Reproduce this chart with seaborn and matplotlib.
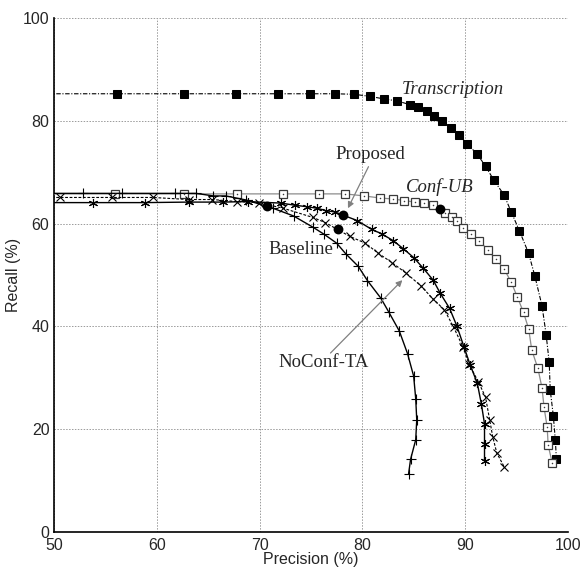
import matplotlib
matplotlib.use("Agg")
import matplotlib.pyplot as plt
import seaborn as sns
import numpy as np

# ---------------- data ----------------
trans_x = [45.0, 56.1, 62.6, 67.7, 71.8, 74.9, 77.3, 79.2, 80.7, 82.1, 83.4, 84.6, 85.4, 86.3,
           87.0, 87.8, 88.6, 89.4, 90.2, 91.2, 92.0, 92.8, 93.8, 94.5, 95.3, 96.2, 96.8,
           97.5, 97.9, 98.2, 98.3, 98.6, 98.8, 98.9]
trans_y = [85.3, 85.3, 85.3, 85.3, 85.3, 85.3, 85.3, 85.2, 84.8, 84.3, 83.9, 83.2, 82.7, 81.9,
           81.0, 79.9, 78.6, 77.2, 75.6, 73.5, 71.2, 68.5, 65.6, 62.3, 58.6, 54.2, 49.8,
           44.0, 38.4, 33.0, 27.6, 22.6, 17.8, 14.1]

confub_x = [45.0, 55.9, 62.6, 67.8, 72.3, 75.8, 78.3, 80.2, 81.7, 83.0, 84.1, 85.1, 86.0, 86.9,
            88.1, 88.7, 89.2, 89.8, 90.6, 91.4, 92.2, 93.0, 93.8, 94.5, 95.1, 95.7, 96.2,
            96.5, 97.1, 97.5, 97.7, 98.0, 98.1, 98.5]
confub_y = [65.8, 65.8, 65.8, 65.8, 65.8, 65.8, 65.8, 65.4, 65.0, 64.8, 64.5, 64.2, 64.0, 63.6,
            62.1, 61.3, 60.5, 59.2, 57.9, 56.7, 54.9, 53.1, 51.2, 48.6, 45.7, 42.7, 39.5,
            35.4, 31.8, 28.0, 24.2, 20.4, 16.8, 13.4]

prop_x = [45.0, 53.8, 58.8, 63.1, 66.4, 68.9, 72.1, 73.4, 74.6, 75.6, 76.5, 77.3, 79.5, 80.9,
          81.9, 83.0, 84.0, 85.0, 85.9, 86.9, 87.6, 88.5, 89.2, 89.9, 90.5, 91.2, 91.6,
          91.9, 91.9, 91.9]
prop_y = [64.1, 64.1, 64.1, 64.2, 64.2, 64.3, 64.0, 63.6, 63.3, 63.0, 62.5, 62.3, 60.6, 58.9,
          58.0, 56.7, 55.1, 53.4, 51.4, 49.0, 46.4, 43.5, 40.1, 36.0, 32.5, 28.9, 24.8,
          21.0, 17.1, 13.8]

xcur_x = [45.0, 50.6, 55.6, 59.6, 63.1, 65.4, 67.8, 69.9, 72.3, 75.2, 76.4, 78.8, 80.3, 81.5,
          82.9, 84.3, 85.7, 86.9, 88.0, 88.9, 89.8, 90.4, 91.3, 92.0, 92.4, 92.7, 93.1, 93.8]
xcur_y = [65.1, 65.1, 65.1, 65.1, 64.7, 64.7, 64.3, 64.1, 63.0, 61.2, 60.2, 57.5, 56.2, 54.3,
          52.4, 50.3, 47.9, 45.3, 43.2, 39.8, 36.0, 32.6, 29.2, 26.2, 21.8, 18.5, 15.3, 12.7]

plus_x = [45.0, 52.8, 56.6, 61.8, 63.8, 65.5, 66.7, 68.7, 71.3, 73.3, 75.2, 76.3, 77.5, 78.4,
          79.6, 80.5, 81.8, 82.6, 83.6, 84.4, 85.0, 85.2, 85.3, 85.2, 84.7, 84.5]
plus_y = [65.9, 65.9, 65.9, 65.9, 65.9, 65.4, 65.4, 64.6, 63.0, 61.5, 59.3, 57.9, 56.2, 54.1,
          51.7, 48.9, 45.5, 42.7, 39.1, 34.7, 30.3, 25.9, 21.8, 17.9, 14.1, 11.2]

op_x = [70.7, 78.1, 77.6, 87.6]
op_y = [63.4, 61.6, 58.9, 62.8]

labels = ["Transcription", "Conf-UB", "Proposed", "Baseline", "NoConf-TA"]
x_ticks = [50, 60, 70, 80, 90, 100]
y_ticks = [0, 20, 40, 60, 80, 100]

# ---------------- figure ----------------
sns.set_style("white")
plt.rcParams["font.family"] = ["Liberation Sans", "DejaVu Sans"]

fig = plt.figure(figsize=(5.85, 5.68), dpi=100)
ax = fig.add_axes([0.0928, 0.0639, 0.8776, 0.9039])

common = dict(sort=False, estimator=None, ax=ax, legend=False)

sns.lineplot(x=trans_x, y=trans_y, color="black", lw=0.8, linestyle=(0, (4, 1.5, 1, 1.5)),
             marker="s", markersize=5.3, markerfacecolor="black", markeredgecolor="black",
             zorder=3, **common)
sns.lineplot(x=confub_x, y=confub_y, color="#8c8c8c", lw=0.9, linestyle="-",
             marker="s", markersize=6.2, markerfacecolor="white", markeredgecolor="#3a3a3a",
             markeredgewidth=0.9, zorder=3, **common)
sns.scatterplot(x=confub_x, y=confub_y, color="#3a3a3a", s=1.2, linewidth=0, ax=ax,
                legend=False, zorder=4)
sns.lineplot(x=xcur_x, y=xcur_y, color="black", lw=0.8, linestyle=(0, (2.5, 1.5)),
             marker="x", markersize=6, markeredgecolor="black", markeredgewidth=0.8,
             zorder=3, **common)
sns.lineplot(x=plus_x, y=plus_y, color="black", lw=1.0, linestyle="-",
             marker="+", markersize=7, markeredgecolor="black", markeredgewidth=0.8,
             zorder=3, **common)
sns.lineplot(x=prop_x, y=prop_y, color="black", lw=1.0, linestyle="-",
             marker=(6, 2, 0), markersize=6.5, markeredgecolor="black", markeredgewidth=0.8,
             zorder=3, **common)
sns.scatterplot(x=op_x, y=op_y, color="black", s=50, marker="o", linewidth=0, ax=ax,
                legend=False, zorder=5)

ax.set_xlim(50, 100)
ax.set_ylim(0, 100)
ax.set_xticks(x_ticks)
ax.set_yticks(y_ticks)
ax.set_xticks(np.arange(55, 100, 10), minor=True)
ax.set_yticks(np.arange(10, 100, 20), minor=True)
ax.tick_params(which="major", direction="in", length=5, width=0.8, labelsize=11.5,
               top=False, right=False)
ax.tick_params(axis="x", which="major", pad=4.5)
ax.tick_params(axis="y", which="major", pad=3.5)
ax.tick_params(which="minor", direction="in", length=3, width=0.8, top=False, right=False)
ax.grid(True, which="major", color="#9a9a9a", linestyle=(0, (1.5, 1.5)), linewidth=0.7)
ax.set_axisbelow(True)
for s in ["top", "right"]:
    ax.spines[s].set_visible(False)
for s in ["left", "bottom"]:
    ax.spines[s].set_color("black")
    ax.spines[s].set_linewidth(1.2)

ax.set_xlabel("Precision (%)", fontsize=11.5, labelpad=-1)
ax.set_ylabel("Recall (%)", fontsize=11.5, labelpad=1)

serif = ["Liberation Serif", "DejaVu Serif"]
ax.text(88.8, 86.2, labels[0], fontsize=13.5, style="italic", family=serif,
        ha="center", va="center")
ax.text(87.5, 67.2, labels[1], fontsize=13.5, style="italic", family=serif,
        ha="center", va="center")
ax.text(80.8, 73.4, labels[2], fontsize=13.5, family=serif, ha="center", va="center")
ax.text(74.0, 54.9, labels[3], fontsize=13.5, family=serif, ha="center", va="center")
ax.text(76.2, 33.0, labels[4], fontsize=13.5, family=serif, ha="center", va="center")

arrow = dict(arrowstyle="-|>", color="#808080", lw=0.9, mutation_scale=9, shrinkA=0, shrinkB=0)
ax.annotate("", xy=(78.6, 63.0), xytext=(80.6, 71.1), arrowprops=arrow)
ax.annotate("", xy=(83.9, 49.0), xytext=(76.9, 34.8), arrowprops=arrow)

fig.savefig("out.png", dpi=100, facecolor="white")
